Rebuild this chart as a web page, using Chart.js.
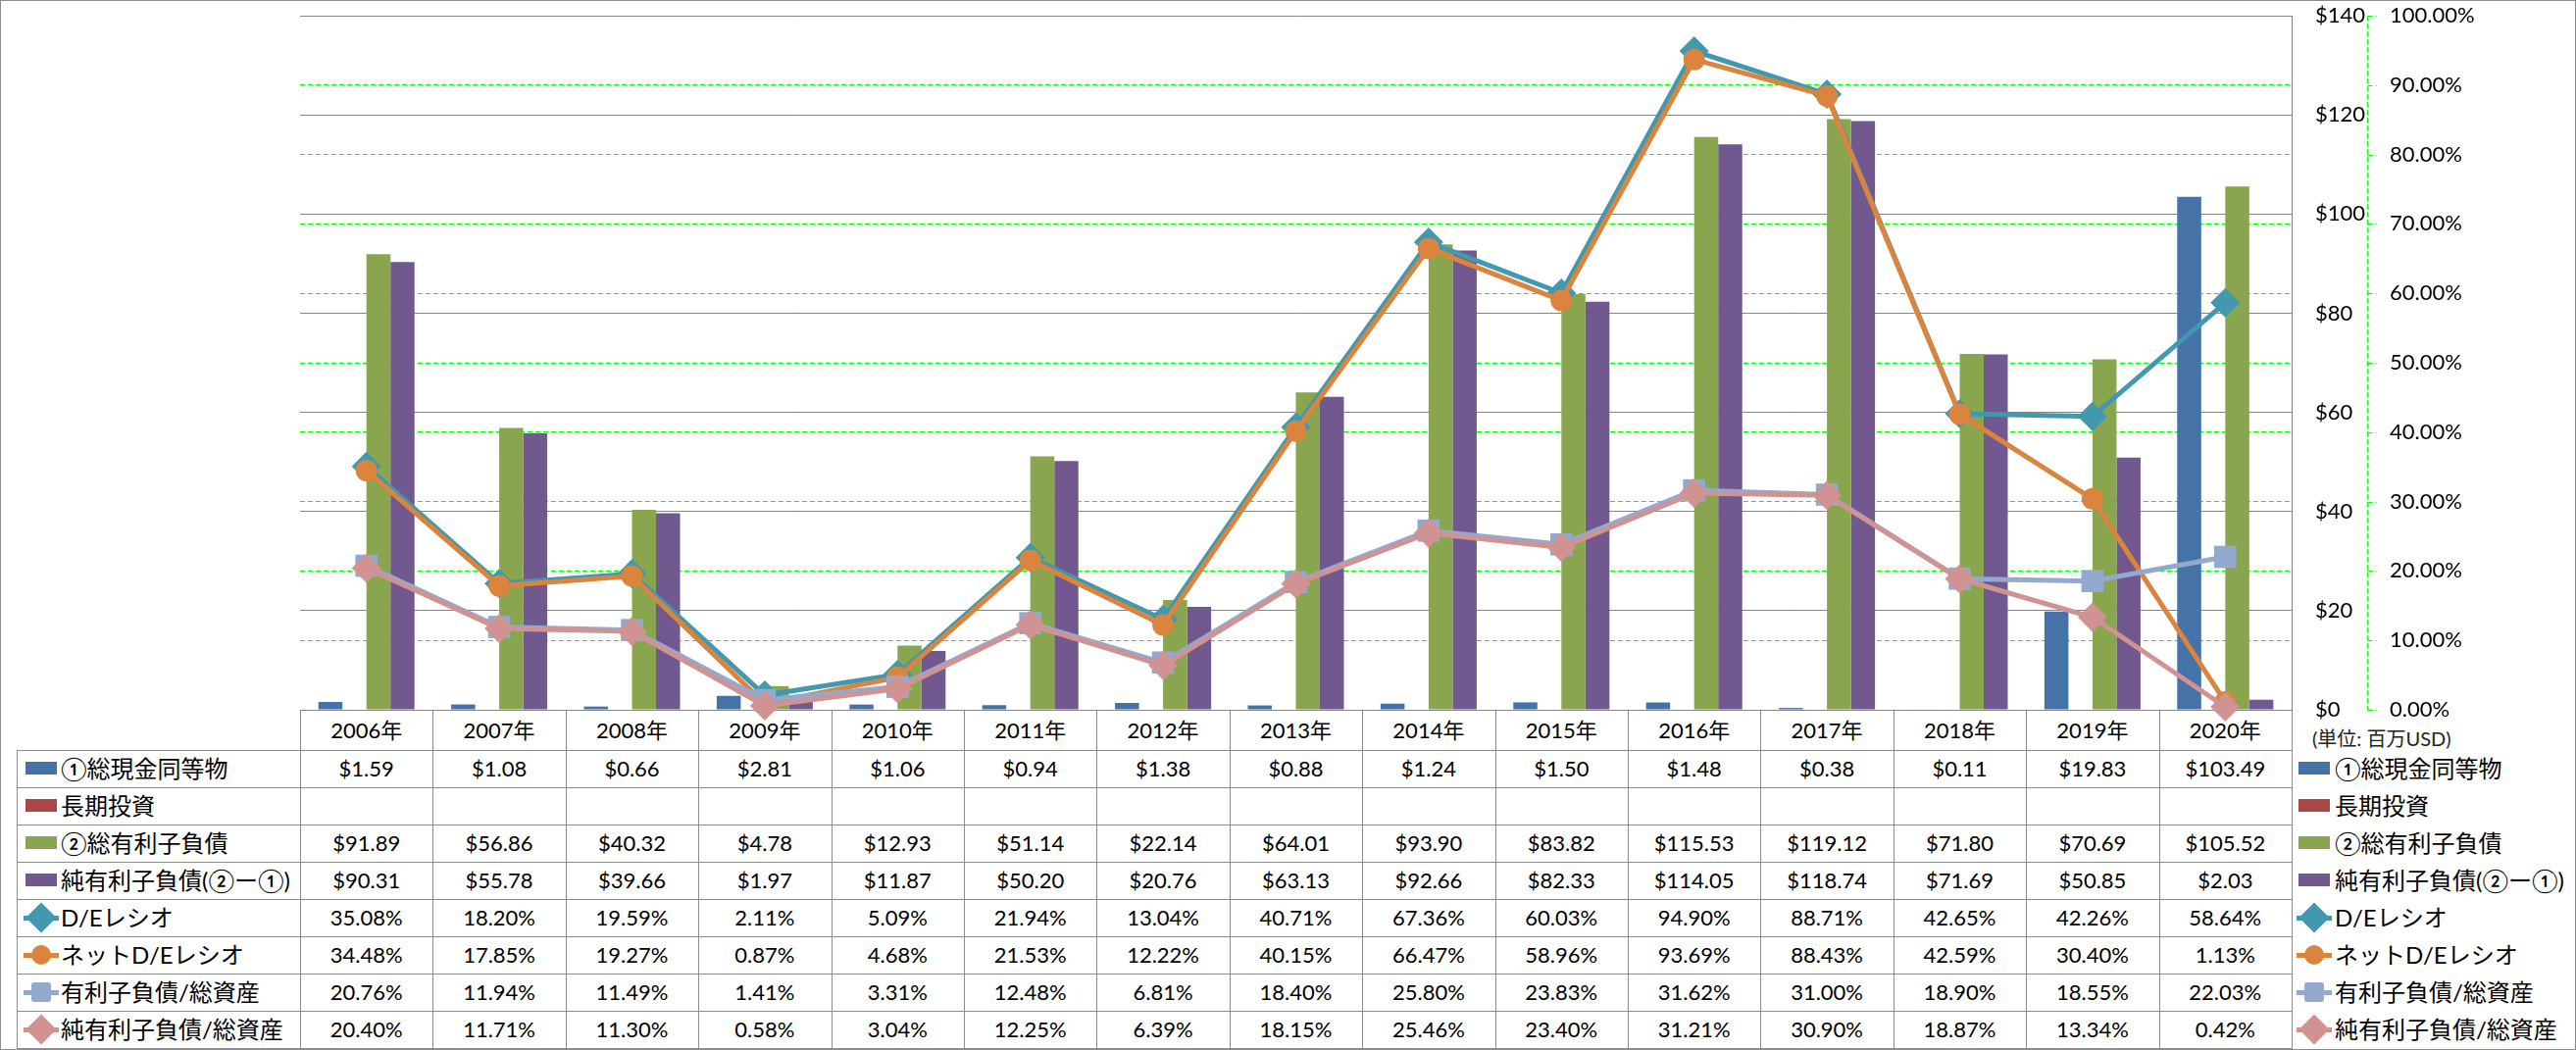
<!DOCTYPE html>
<html>
<head>
<meta charset="utf-8">
<script src="https://cdn.jsdelivr.net/npm/chart.js@4.4.1/dist/chart.umd.min.js"></script>
<style>
body { margin: 0; background: #fff; }
#wrap { position: relative; width: 2627px; height: 1071px; overflow: hidden; font-family: Lato, "Noto Sans CJK JP", sans-serif; color: #000; }
#frame { position: absolute; left: 0; top: 0; width: 2627px; height: 1071px; box-sizing: border-box; border: 1px solid #8c8c8c; }
#c { position: absolute; left: 0; top: 0; z-index: 2; pointer-events: none; }
.ln { position: absolute; background: #8c8c8c; }
.cell { position: absolute; text-align: center; font-size: 22px; white-space: nowrap; }
.key { position: absolute; font-size: 24px; white-space: nowrap; }
.sw { position: absolute; }
.unit { position: absolute; font-size: 20px; color: #222; white-space: nowrap; }
</style>
</head>
<body>
<div id="wrap">
  <div id="frame"></div>
  <div id="tbl"></div>
  <canvas id="c" width="2627" height="1071"></canvas>
</div>
<script>
const years = ["2006年", "2007年", "2008年", "2009年", "2010年", "2011年", "2012年", "2013年", "2014年", "2015年", "2016年", "2017年", "2018年", "2019年", "2020年"];

// 百万USD
const cash = [1.59, 1.08, 0.66, 2.81, 1.06, 0.94, 1.38, 0.88, 1.24, 1.50, 1.48, 0.38, 0.11, 19.83, 103.49];
const longInvest = [null, null, null, null, null, null, null, null, null, null, null, null, null, null, null];
const totalDebt = [91.89, 56.86, 40.32, 4.78, 12.93, 51.14, 22.14, 64.01, 93.90, 83.82, 115.53, 119.12, 71.80, 70.69, 105.52];
const netDebt = [90.31, 55.78, 39.66, 1.97, 11.87, 50.20, 20.76, 63.13, 92.66, 82.33, 114.05, 118.74, 71.69, 50.85, 2.03];

// %
const deRatio = [35.08, 18.20, 19.59, 2.11, 5.09, 21.94, 13.04, 40.71, 67.36, 60.03, 94.90, 88.71, 42.65, 42.26, 58.64];
const netDeRatio = [34.48, 17.85, 19.27, 0.87, 4.68, 21.53, 12.22, 40.15, 66.47, 58.96, 93.69, 88.43, 42.59, 30.40, 1.13];
const debtToAssets = [20.76, 11.94, 11.49, 1.41, 3.31, 12.48, 6.81, 18.40, 25.80, 23.83, 31.62, 31.00, 18.90, 18.55, 22.03];
const netDebtToAssets = [20.40, 11.71, 11.30, 0.58, 3.04, 12.25, 6.39, 18.15, 25.46, 23.40, 31.21, 30.90, 18.87, 13.34, 0.42];

const usdMax = 140, usdStep = 20;
const pctMax = 100, pctStep = 10;

const FONT = "Lato, 'Noto Sans CJK JP', sans-serif";
const GREEN = "#00FF00";
const DASH = [5, 3];

function bar(label, data, color) {
    // all bars share one order so they keep their index order inside a group
    return { type: "bar", label: label, data: data, backgroundColor: color, yAxisID: "y", order: 10, kind: "usd" };
}
function line(label, data, color, style, radius, order) {
    return {
        type: "line", label: label, data: data, yAxisID: "y1", order: order, kind: "pct",
        borderColor: color, backgroundColor: color, borderWidth: 5,
        pointStyle: style, pointRadius: radius, pointBorderWidth: 0,
        pointBackgroundColor: color, tension: 0, clip: false
    };
}

const datasets = [
    bar("①総現金同等物", cash, "#4572A7"),
    bar("長期投資", longInvest, "#AA4643"),
    bar("②総有利子負債", totalDebt, "#89A54E"),
    bar("純有利子負債(②ー①)", netDebt, "#71588F"),
    line("D/Eレシオ", deRatio, "#4198AF", "rectRot", 15, 4),
    line("ネットD/Eレシオ", netDeRatio, "#DB843D", "circle", 11, 3),
    line("有利子負債/総資産", debtToAssets, "#93A9CF", "rect", 16, 2),
    line("純有利子負債/総資産", netDebtToAssets, "#D09392", "rectRot", 15, 1)
];

// green dashed axis line of the % scale, with its short tick marks
const pctAxisLine = {
    id: "pctAxisLine",
    afterDraw(chart) {
        const s = chart.scales.y1, a = chart.chartArea, ctx = chart.ctx;
        const x = Math.round(s.left) + 0.5;
        ctx.save();
        ctx.strokeStyle = GREEN;
        ctx.lineWidth = 1;
        ctx.setLineDash(DASH);
        ctx.beginPath();
        ctx.moveTo(x, a.top);
        ctx.lineTo(x, a.bottom);
        s.ticks.forEach(t => {
            const y = Math.round(s.getPixelForValue(t.value)) + 0.5;
            ctx.moveTo(x, y);
            ctx.lineTo(x + 9, y);
        });
        ctx.stroke();
        ctx.restore();
    }
};

const chart = new Chart(document.getElementById("c"), {
    type: "bar",
    data: { labels: years, datasets: datasets },
    options: {
        responsive: false,
        animation: false,
        devicePixelRatio: 1,
        layout: { padding: { left: 306, top: 15, right: 63, bottom: 347 } },
        datasets: { bar: { barPercentage: 1, categoryPercentage: 0.724 } },
        plugins: { legend: { display: false }, tooltip: { enabled: false } },
        scales: {
            x: { display: false, offset: true, grid: { display: false } },
            y: {
                position: "right", weight: 0, min: 0, max: usdMax,
                ticks: { stepSize: usdStep, padding: 0, color: "#000", font: { size: 22, family: FONT }, callback: v => "$" + v },
                grid: { color: "#868686", lineWidth: 1, drawTicks: true, tickLength: 24, tickColor: "rgba(0,0,0,0)" },
                border: { display: true, color: "#868686", width: 1 },
                afterFit: s => { s.width = 77; }
            },
            y1: {
                position: "right", weight: 1, min: 0, max: pctMax,
                ticks: { stepSize: pctStep, padding: 0, color: "#000", font: { size: 22, family: FONT }, callback: v => v.toFixed(2) + "%" },
                grid: {
                    color: c => (c.tick && (c.tick.value === pctMax || c.tick.value === 0)) ? "rgba(0,0,0,0)" : GREEN,
                    tickColor: "rgba(0,0,0,0)", lineWidth: 1, drawTicks: true, tickLength: 23
                },
                border: { display: false, dash: DASH },
                afterFit: s => { s.width = 150; }
            }
        }
    },
    plugins: [pctAxisLine]
});

// data table under the plot, lined up with the category axis
const tbl = document.getElementById("tbl");
const area = chart.chartArea;
const colW = (area.right - area.left) / years.length;
const tableLeft = 17;
const headTop = area.bottom;
const rowTop = 765, rowH = 38;

function el(cls, css, text) {
    const d = document.createElement("div");
    d.className = cls;
    Object.assign(d.style, css);
    if (text !== undefined) d.textContent = text;
    tbl.appendChild(d);
    return d;
}

function swatch(ds, x, cy) {
    if (ds.type === "bar") {
        el("sw", { left: x + 2 + "px", top: cy - 7 + "px", width: "32px", height: "13px", background: ds.backgroundColor });
        return;
    }
    el("sw", { left: x + "px", top: cy - 2.5 + "px", width: "36px", height: "5px", background: ds.borderColor });
    const m = { left: x + 8 + "px", top: cy - 10 + "px", width: "20px", height: "20px", background: ds.borderColor };
    if (ds.pointStyle === "rectRot") {
        Object.assign(m, { left: x + 7 + "px", top: cy - 11 + "px", width: "22px", height: "22px", transform: "rotate(45deg)" });
    } else if (ds.pointStyle === "circle") {
        m.borderRadius = "50%";
    } else {
        m.borderRadius = "3px";
    }
    el("sw", m);
}

function fmt(ds, v) {
    if (v === null || v === undefined) return "";
    return ds.kind === "usd" ? "$" + v.toFixed(2) : v.toFixed(2) + "%";
}

// header row: years
years.forEach((y, i) => {
    el("cell", { left: area.left + i * colW + "px", top: headTop + "px", width: colW + "px", height: rowTop - headTop + "px", lineHeight: rowTop - headTop + "px" }, y);
});

datasets.forEach((ds, r) => {
    const top = rowTop + r * rowH;
    const cy = top + rowH / 2;
    swatch(ds, 24, cy);
    el("key", { left: "62px", top: top + "px", height: rowH + "px", lineHeight: rowH + "px" }, ds.label);
    ds.data.forEach((v, i) => {
        el("cell", { left: area.left + i * colW + "px", top: top + "px", width: colW + "px", height: rowH + "px", lineHeight: rowH + "px" }, fmt(ds, v));
    });
    // legend on the right
    swatch(ds, 2342, cy);
    el("key", { left: "2381px", top: top + "px", height: rowH + "px", lineHeight: rowH + "px" }, ds.label);
});

// grid lines of the table
const tableBottom = rowTop + datasets.length * rowH;
el("ln", { left: area.left + "px", top: headTop + "px", width: area.right - area.left + 1 + "px", height: "1px" });
for (let r = 0; r <= datasets.length; r++) {
    el("ln", { left: tableLeft + "px", top: rowTop + r * rowH + "px", width: area.right - tableLeft + 1 + "px", height: "1px" });
}
el("ln", { left: tableLeft + "px", top: rowTop + "px", width: "1px", height: tableBottom - rowTop + "px" });
for (let i = 0; i <= years.length; i++) {
    el("ln", { left: Math.round(area.left + i * colW) + "px", top: headTop + "px", width: "1px", height: tableBottom - headTop + 1 + "px" });
}

el("unit", { left: "2358px", top: "740px", lineHeight: "26px" }, "(単位: 百万USD)");
</script>
</body>
</html>
